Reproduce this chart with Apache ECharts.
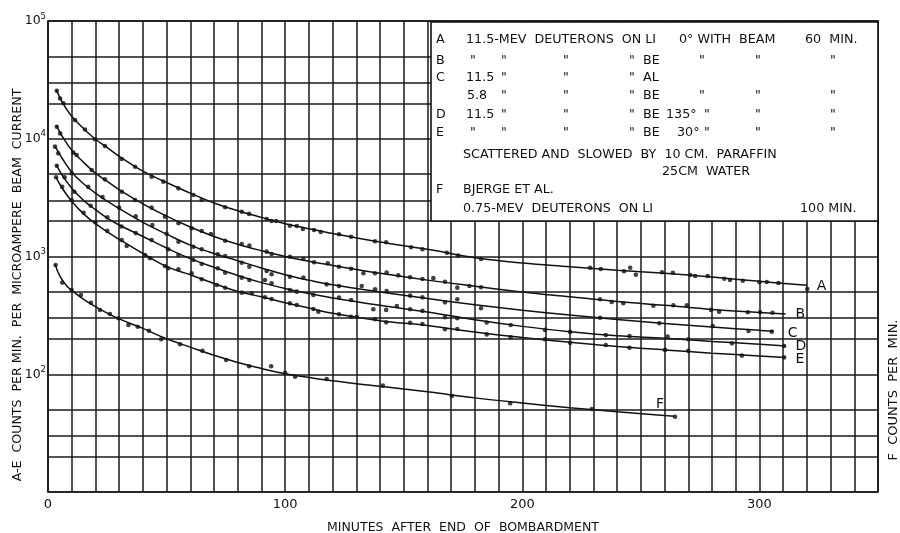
<!DOCTYPE html>
<html>
<head>
<meta charset="UTF-8">
<script src="https://cdn.jsdelivr.net/npm/echarts@6/dist/echarts.min.js"></script>
<style>
  html, body { margin: 0; padding: 0; background: #fff; }
  #main { width: 900px; height: 533px; }
</style>
</head>
<body>
<div id="main"></div>
<script>
// minutes after bombardment, counts per min (dots)
var aDots = [[3.7,25600],[5.1,22000],[6.5,20000],[11.4,14400],[15.6,12000],[19.8,9900],[24,8680],[31.1,6730],[36.7,5790],[43.7,4760],[48.6,4320],[55,3790],[61.3,3330],[64.8,3020],[74.7,2620],[81.7,2400],[84.8,2300],[92.2,2080],[94.3,2000],[96.2,2000],[102,1827],[104.9,1817],[107.5,1713],[112.2,1680],[115,1616],[122.7,1544],[127.8,1473],[137.9,1347],[142.6,1321],[153.1,1198],[157.9,1151],[168.2,1077],[172.9,1020],[182.6,953],[228.6,803],[233.1,783],[242.9,749],[245.5,803],[247.9,700],[258.9,734],[263.5,728],[270.8,697],[272.9,682],[278.2,682],[285.2,647],[287.6,631],[293,622],[300,604],[303.1,608],[308,596],[320.2,530]];
var aFit = [[3.5,26000],[6,20500],[10,15500],[15,12200],[20,9900],[25,8400],[30,7100],[40,5300],[50,4250],[60,3450],[70,2850],[80,2450],[90,2150],[100,1900],[110,1720],[120,1570],[140,1330],[160,1150],[180,975],[200,880],[220,820],[240,765],[260,720],[280,670],[300,615],[320,570]];

var bDots = [[3.7,12650],[5.1,11100],[10.7,7620],[12.1,7280],[18.4,5430],[24,4520],[31.1,3550],[36.7,3020],[43.7,2600],[49.3,2180],[55,1915],[60.6,1735],[64.8,1647],[68.7,1552],[74.7,1362],[81.7,1276],[84.9,1236],[92.2,1099],[94.3,1050],[102,996],[107.7,952],[112.2,893],[118,875],[122.7,819],[127.8,788],[133,720],[137.9,720],[142.8,730],[147.7,692],[152.7,666],[157.9,644],[162.5,655],[167.4,611],[172.6,544],[177.7,562],[182.6,548],[232.8,433],[237.7,411],[242.6,401],[255.3,382],[263.7,386],[269.4,386],[279.6,352],[283,340],[295.1,336],[300.3,336],[305.5,333]];
var bFit = [[3.5,13000],[6,10500],[10,8000],[15,6300],[20,5100],[25,4350],[30,3700],[40,2800],[50,2200],[60,1780],[70,1480],[80,1270],[90,1120],[100,1000],[110,910],[120,840],[140,720],[160,630],[180,560],[200,500],[220,455],[240,415],[260,385],[280,355],[300,335],[311,325]];

var cDots = [[2.95,8570],[4.3,7520],[10,5100],[17,3900],[23,3200],[30,2600],[37,2200],[44,1850],[50,1560],[55,1336],[61.3,1211],[64.8,1151],[71.6,1045],[74.7,1010],[81.7,885],[84.9,819],[91.5,631],[92.2,753],[94.3,706],[102,674],[107.7,661],[117.5,580],[122.7,562],[132.3,562],[137.9,527],[142.8,509],[152.7,465],[157.9,450],[167.4,408],[172.6,433],[182.6,363],[232.8,302],[257.8,271],[280.3,257],[295.4,233],[305.2,230]];
var cFit = [[3,8600],[6,6800],[10,5200],[15,4150],[20,3450],[25,2950],[30,2550],[40,1950],[50,1550],[60,1250],[70,1060],[80,920],[90,800],[100,700],[110,630],[120,575],[140,500],[160,440],[180,390],[200,350],[220,318],[240,292],[260,270],[280,252],[300,236],[306,232]];

var dDots = [[3.7,5900],[7,4700],[11.1,3550],[18,2700],[25,2150],[31,1800],[37,1580],[43.7,1380],[50.7,1151],[55,1030],[61.3,933],[64.8,863],[71.6,794],[74.7,728],[81.7,661],[84.9,631],[94.3,592],[102,520],[104.9,503],[111.9,471],[122.7,449],[127.8,427],[137.2,356],[142.6,352],[147.1,380],[152.7,356],[157.9,345],[167.4,305],[172.6,299],[185,275],[195.1,262],[209.6,238],[220.2,229],[235.2,215],[245.2,211],[261.3,209],[270,198],[288.4,183],[310.4,174]];
var dFit = [[3.5,6000],[6,4900],[10,3800],[15,3000],[20,2500],[25,2120],[30,1850],[40,1480],[50,1180],[60,960],[70,810],[80,690],[90,600],[100,535],[110,485],[120,445],[140,385],[160,338],[180,290],[200,255],[220,230],[240,212],[260,202],[280,190],[300,180],[311,174]];

var eDots = [[3.4,4710],[6,3900],[10,3000],[15,2350],[20,1950],[25,1650],[31.1,1380],[33.2,1228],[40.9,1030],[43,966],[49.3,830],[50.7,794],[55,778],[60.6,720],[64.8,640],[71.2,573],[74.7,543],[81.7,493],[85.9,487],[91.5,450],[94.3,435],[102,400],[104.9,387],[111.9,358],[114,340],[122.7,323],[127.8,308],[130.2,308],[137.9,294],[142.6,276],[152.7,274],[157.9,267],[167.4,241],[172.6,242],[185,218],[195.1,206],[209.6,198],[220.2,185],[235.2,177],[245.2,168],[260.2,161],[270,158],[292.6,144],[310.4,139]];
var eFit = [[3.4,4700],[6,3800],[10,2950],[15,2300],[20,1900],[25,1620],[30,1400],[40,1060],[50,820],[60,700],[70,590],[80,505],[90,455],[100,405],[110,365],[120,330],[140,285],[160,260],[180,228],[200,205],[220,187],[240,172],[260,161],[280,151],[300,143],[311,139]];

var fDots = [[3.2,847],[6,600],[10,520],[13.9,471],[18.1,405],[21.9,351],[26.1,325],[29.7,299],[33.9,262],[37.8,253],[42.6,234],[47.7,198],[55.7,180],[65.1,158],[75.1,132],[84.8,117],[94.1,117],[100,103],[104.2,95.3],[117.5,91.1],[141.2,80],[170.3,65.3],[194.9,56.6],[229.3,50.7],[264.4,43.6]];
var fFit = [[3,860],[5,680],[8,560],[12,480],[16,420],[20,375],[25,330],[30,295],[40,245],[50,200],[60,170],[70,145],[80,126],[90,112],[100,101],[120,88],[140,79],[160,71],[180,63],[200,57],[220,52],[240,48],[264,44]];

var curveNames = ['A', 'B', 'C', 'D', 'E', 'F'];
var labelOffsets = [[2, 1], [2, 0], [6, 2], [2, 0], [2, 2], [-26, -12]];
var xLabels = [0, 100, 200, 300];
var extraGrid = [20, 30, 50, 200, 300, 500, 2000, 3000, 5000, 20000, 30000, 50000];

var font = 'DejaVu Sans';
var ink = '#111';
var bs = 12.7;

var fits = [aFit, bFit, cFit, dFit, eFit, fFit];
var dots = [aDots, bDots, cDots, dDots, eDots, fDots];

var series = [];
for (var i = 0; i < fits.length; i++) {
  series.push({
    name: curveNames[i],
    type: 'line',
    data: fits[i],
    smooth: 0.4,
    showSymbol: false,
    lineStyle: { color: ink, width: 1.5 },
    endLabel: {
      show: true,
      formatter: '{a}',
      offset: labelOffsets[i],
      color: ink,
      fontSize: 14,
      fontFamily: font
    },
    z: 3
  });
  series.push({
    name: curveNames[i] + ' pts',
    type: 'scatter',
    data: dots[i],
    symbol: 'circle',
    symbolSize: 4.6,
    itemStyle: { color: ink },
    z: 4
  });
}
// horizontal rules at 2, 3 and 5 in each decade
series.push({
  type: 'line',
  data: [],
  markLine: {
    silent: true,
    symbol: ['none', 'none'],
    label: { show: false },
    lineStyle: { color: '#1a1a1a', width: 1.5, type: 'solid' },
    data: extraGrid.map(function (v) { return { yAxis: v }; })
  },
  z: 1
});

function txt(s, x, y) {
  return {
    type: 'text', x: x, y: y, z: 101,
    style: { text: s, fontSize: bs, fontFamily: font, fill: ink, verticalAlign: 'middle' }
  };
}

var boxText = [
  txt('A', 436, 40), txt('11.5-MEV  DEUTERONS  ON LI', 466, 40), txt('0° WITH  BEAM', 679, 40), txt('60  MIN.', 805, 40),
  txt('B', 436, 61), txt('"', 470, 61), txt('"', 501, 61), txt('"', 563, 61), txt('"', 629, 61), txt('BE', 643, 61), txt('"', 699, 61), txt('"', 755, 61), txt('"', 830, 61),
  txt('C', 436, 78), txt('11.5', 466, 78), txt('"', 501, 78), txt('"', 563, 78), txt('"', 629, 78), txt('AL', 643, 78),
  txt('5.8', 467, 96), txt('"', 501, 96), txt('"', 563, 96), txt('"', 629, 96), txt('BE', 643, 96), txt('"', 699, 96), txt('"', 755, 96), txt('"', 830, 96),
  txt('D', 436, 115), txt('11.5', 466, 115), txt('"', 501, 115), txt('"', 563, 115), txt('"', 629, 115), txt('BE', 643, 115), txt('135°', 666, 115), txt('"', 704, 115), txt('"', 755, 115), txt('"', 830, 115),
  txt('E', 436, 133), txt('"', 470, 133), txt('"', 501, 133), txt('"', 563, 133), txt('"', 629, 133), txt('BE', 643, 133), txt('30°', 677, 133), txt('"', 704, 133), txt('"', 755, 133), txt('"', 830, 133),
  txt('SCATTERED AND  SLOWED  BY  10 CM.  PARAFFIN', 463, 155),
  txt('25CM  WATER', 662, 172),
  txt('F', 436, 190), txt('BJERGE ET AL.', 463, 190),
  txt('0.75-MEV  DEUTERONS  ON LI', 463, 209), txt('100 MIN.', 800, 209)
];

var graphics = [
  {
    type: 'rect', z: 100,
    shape: { x: 431, y: 22, width: 447, height: 199 },
    style: { fill: '#fff', stroke: ink, lineWidth: 1.6 }
  },
  {
    type: 'text', z: 101, x: 18, y: 285, rotation: Math.PI / 2,
    style: { text: 'A-E  COUNTS  PER MIN.  PER  MICROAMPERE  BEAM  CURRENT', fontSize: 12.6, fontFamily: font, fill: ink, align: 'center', verticalAlign: 'middle' }
  },
  {
    type: 'text', z: 101, x: 894, y: 390, rotation: Math.PI / 2,
    style: { text: 'F  COUNTS  PER  MIN.', fontSize: 13, fontFamily: font, fill: ink, align: 'center', verticalAlign: 'middle' }
  }
].concat(boxText);

var chart = echarts.init(document.getElementById('main'));
chart.setOption({
  animation: false,
  backgroundColor: '#fff',
  grid: {
    left: 48, right: 22, top: 21, bottom: 41,
    containLabel: false, outerBoundsMode: 'none',
    show: true, borderColor: ink, borderWidth: 1.7
  },
  xAxis: {
    type: 'value', min: 0, max: 350, interval: 10,
    name: 'MINUTES  AFTER  END  OF  BOMBARDMENT',
    nameLocation: 'middle', nameGap: 29,
    nameTextStyle: { fontSize: 12.5, fontFamily: font, color: ink },
    axisLine: { show: false },
    axisTick: { show: false },
    splitLine: { show: true, lineStyle: { color: '#1a1a1a', width: 1.5 } },
    axisLabel: {
      fontSize: 13, fontFamily: font, color: ink, margin: 6,
      formatter: function (v) { return xLabels.indexOf(v) >= 0 ? String(v) : ''; }
    }
  },
  yAxis: {
    type: 'log', logBase: 10, min: 10, max: 100000, interval: 1,
    axisLine: { show: false },
    axisTick: { show: false },
    splitLine: { show: true, lineStyle: { color: '#1a1a1a', width: 1.5 } },
    axisLabel: {
      margin: 2,
      formatter: function (v) {
        var e = Math.round(Math.log(v) / Math.LN10);
        if (e < 2) return '';
        return '{b|10}{s|' + e + '}';
      },
      rich: {
        b: { fontSize: 12.5, fontFamily: font, color: ink, lineHeight: 18 },
        s: { fontSize: 8.5, fontFamily: font, color: ink, verticalAlign: 'top', lineHeight: 18 }
      }
    }
  },
  graphic: graphics,
  series: series
});
</script>
</body>
</html>
